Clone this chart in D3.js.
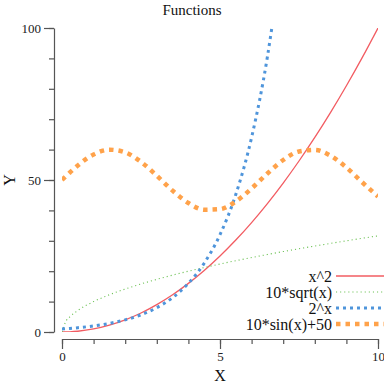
<!DOCTYPE html>
<html>
<head>
<meta charset="utf-8">
<script src="https://cdn.jsdelivr.net/npm/d3@7"></script>
<style>
  body { margin: 0; background: #fff; }
  svg { display: block; font-family: "Liberation Serif", "DejaVu Serif", serif; }
</style>
</head>
<body>
<svg id="chart" width="384" height="384"></svg>
<script>
// sample points
const xs = [0, 0.125, 0.25, 0.5, 1, 1.5, 2, 2.5, 3, 3.5, 4, 4.5, 5, 5.5, 6, 6.5, 7, 7.5, 8, 8.5, 9, 9.5, 10];
const square = [0, 0.02, 0.06, 0.25, 1, 2.25, 4, 6.25, 9, 12.25, 16, 20.25, 25, 30.25, 36, 42.25, 49, 56.25, 64, 72.25, 81, 90.25, 100];
const sqrtVals = [0, 3.54, 5, 7.07, 10, 12.25, 14.14, 15.81, 17.32, 18.71, 20, 21.21, 22.36, 23.45, 24.49, 25.5, 26.46, 27.39, 28.28, 29.15, 30, 30.82, 31.62];
const powVals = [1, 1.09, 1.19, 1.41, 2, 2.83, 4, 5.66, 8, 11.31, 16, 22.63, 32, 45.25, 64, 90.51, 128];
const sinVals = [50, 51.25, 52.47, 54.79, 58.41, 59.97, 59.09, 55.98, 51.41, 46.49, 42.43, 40.22, 40.41, 42.94, 47.21, 52.15, 56.57, 59.38, 59.89, 57.98, 54.12, 49.25, 44.56];

const seriesNames = ["x^2", "10*sqrt(x)", "2^x", "10*sin(x)+50"];
const seriesValues = [square, sqrtVals, powVals, sinVals];
const seriesColors = ["#f25c62", "#6cc154", "#4f95db", "#ffa24a"];
const seriesWidths = [1.3, 1.1, 3, 4.5];
const seriesDashes = [null, "1.1,3", "3,4", "4.5,5"];

const xTicksMinor = d3.range(0, 11, 1);
const xTicksMajor = [0, 5, 10];
const yTicksMinor = d3.range(0, 101, 10);
const yTicksMajor = [0, 50, 100];

const svg = d3.select("#chart");
const plotLeft = 62, plotRight = 378, plotTop = 28, plotBottom = 332;

const x = d3.scaleLinear().domain([0, 10]).range([plotLeft, plotRight]);
const y = d3.scaleLinear().domain([0, 100]).range([plotBottom, plotTop]);

svg.append("defs").append("clipPath").attr("id", "plot")
  .append("rect")
  .attr("x", plotLeft).attr("y", plotTop)
  .attr("width", plotRight - plotLeft).attr("height", plotBottom - plotTop);

// title
svg.append("text")
  .attr("x", 192).attr("y", 15)
  .attr("text-anchor", "middle")
  .style("font-size", "15px")
  .attr("fill", "#111")
  .text("Functions");

// y axis, drawn slightly left of the plot
const yAxisG = svg.append("g").attr("transform", "translate(54,0)");
yAxisG.call(d3.axisLeft(y).tickValues(yTicksMinor).tickSize(5).tickSizeOuter(0).tickFormat(""));
yAxisG.append("g").call(d3.axisLeft(y).tickValues(yTicksMajor).tickSize(10).tickSizeOuter(0))
  .call((g) => g.select(".domain").remove());

// x axis, drawn slightly below the plot
const xAxisG = svg.append("g").attr("transform", "translate(0,339)");
xAxisG.call(d3.axisBottom(x).tickValues(xTicksMinor).tickSize(5).tickSizeOuter(0).tickFormat(""));
xAxisG.append("g").call(d3.axisBottom(x).tickValues(xTicksMajor).tickSize(10).tickSizeOuter(0))
  .call((g) => g.select(".domain").remove());

svg.selectAll(".domain, .tick line").attr("stroke", "#555").attr("stroke-width", 1.2);
svg.selectAll(".tick text")
  .style("font-size", "13px")
  .style("font-family", "Liberation Serif, serif")
  .attr("fill", "#222");
yAxisG.selectAll(".tick text").attr("x", -13);
xAxisG.selectAll(".tick text").attr("y", 13);

// axis titles
svg.append("text")
  .attr("x", x(5)).attr("y", 381)
  .attr("text-anchor", "middle")
  .style("font-size", "16px")
  .attr("fill", "#111")
  .text("X");
svg.append("text")
  .attr("transform", `translate(15,${y(50)}) rotate(-90)`)
  .attr("text-anchor", "middle")
  .style("font-size", "16px")
  .attr("fill", "#111")
  .text("Y");

// curves
const plot = svg.append("g").attr("clip-path", "url(#plot)");
const line = d3.line()
  .x((d) => x(d[0]))
  .y((d) => y(d[1]))
  .curve(d3.curveMonotoneX);

seriesValues.forEach((vals, i) => {
  const pts = vals.map((v, j) => [xs[j], v]);
  plot.append("path")
    .datum(pts)
    .attr("d", line)
    .attr("fill", "none")
    .attr("stroke", seriesColors[i])
    .attr("stroke-width", seriesWidths[i])
    .attr("stroke-dasharray", seriesDashes[i]);
});

// legend, bottom right
const legend = svg.append("g");
seriesNames.forEach((name, i) => {
  const ly = 276 + i * 16;
  legend.append("text")
    .attr("x", 332).attr("y", ly)
    .attr("dy", "0.35em")
    .attr("text-anchor", "end")
    .style("font-size", "16px")
    .attr("fill", "#111")
    .text(name);
  legend.append("line")
    .attr("x1", 336).attr("x2", 392)
    .attr("y1", ly).attr("y2", ly)
    .attr("stroke", seriesColors[i])
    .attr("stroke-width", seriesWidths[i])
    .attr("stroke-dasharray", seriesDashes[i]);
});
</script>
</body>
</html>
